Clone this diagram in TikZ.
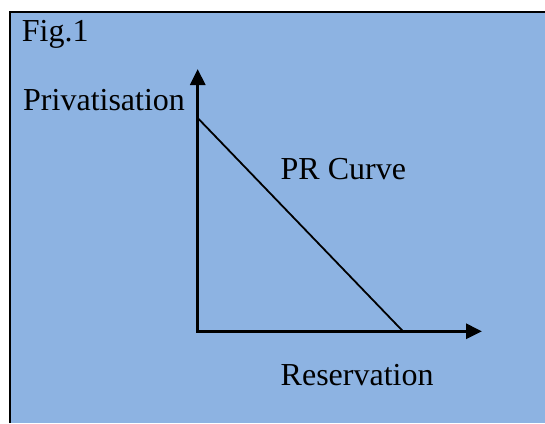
\documentclass[tikz,border=0pt]{standalone}
\usepackage{fontspec}
\setmainfont{Liberation Serif}
\usetikzlibrary{arrows.meta}
\definecolor{panelblue}{RGB}{141,179,226}
\begin{document}
\begin{tikzpicture}[x=1pt,y=-1pt,
  lbl/.style={anchor=base west,inner sep=0pt,font=\fontsize{32}{38}\selectfont},
  axis/.style={line width=3pt,-{Triangle[length=16pt,width=15pt]}},
  curve/.style={line width=1.8pt}]
\useasboundingbox (0,0) rectangle (545,423);
\fill[white] (0,0) rectangle (545,423);
\fill[panelblue] (10,12) rectangle (545,423);
\draw[line width=2pt] (10,423) -- (10,12) -- (545,12);
\coordinate (O) at (197.7,331.3);
\coordinate (ytip) at (197.7,69);
\coordinate (xtip) at (482,331.3);
\coordinate (pa) at (197.7,118);
\coordinate (pb) at (403,331.3);
\draw[curve] (pa) -- (pb);
\draw[axis] ([yshift=1.5pt]O) -- (ytip);
\draw[axis] ([xshift=-1.5pt]O) -- (xtip);
\node[lbl] (fig) at (21.7,41.7) {Fig.1};
\node[lbl] (priv) at (23,110.7) {Privatisation};
\node[lbl] (pr) at (280.5,179.3) {PR Curve};
\node[lbl] (res) at (280.5,385.7) {Reservation};
\end{tikzpicture}
\end{document}
